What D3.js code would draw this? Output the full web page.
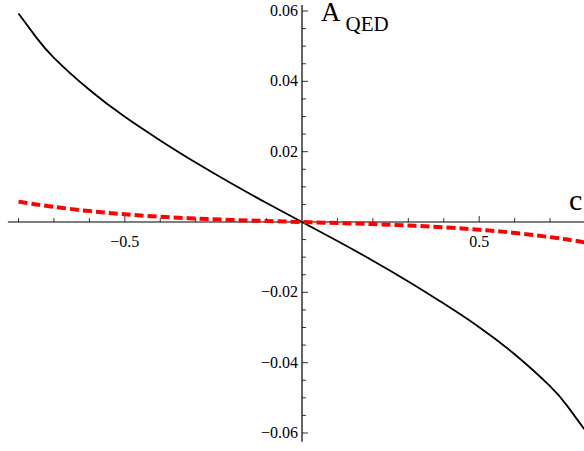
<!DOCTYPE html>
<meta charset="utf-8">
<body style="margin:0;background:#fff">
<script src="https://d3js.org/d3.v7.min.js"></script>
<script>
// values
var cValues   = [-0.8, -0.75, -0.7, -0.6, -0.5, -0.4, -0.3, -0.2, -0.1, 0, 0.1, 0.2, 0.3, 0.4, 0.5, 0.6, 0.7, 0.75, 0.8];
var aSolid    = [0.0593, 0.0525, 0.0467, 0.0376, 0.0299, 0.0232, 0.0169, 0.0110, 0.0054, 0,
                 -0.0054, -0.0110, -0.0169, -0.0232, -0.0299, -0.0376, -0.0467, -0.0525, -0.0594];
var aDashed   = [0.0058, 0.0050, 0.0043, 0.0031, 0.0022, 0.0015, 0.0010, 0.0006, 0.0003, 0,
                 -0.0003, -0.0006, -0.0010, -0.0015, -0.0022, -0.0031, -0.0043, -0.0050, -0.0058];
var xTickLabels = [-0.5, 0.5];
var yTickLabels = [0.06, 0.04, 0.02, -0.02, -0.04, -0.06];

var width = 584, height = 451;
var serif = "'Liberation Serif'";

var x = d3.scaleLinear().domain([-0.8, 0.8]).range([18.5, 585.5]);
var y = d3.scaleLinear().domain([-0.06, 0.06]).range([433, 11]);

var svg = d3.select("body").append("svg")
    .attr("width", width)
    .attr("height", height);

var fmt = function(v) { return (v < 0 ? "\u2212" : "") + Math.abs(v); };

// x axis
svg.append("line")
    .attr("x1", x(-0.83)).attr("x2", width)
    .attr("y1", y(0)).attr("y2", y(0))
    .attr("stroke", "#000").attr("stroke-width", 1.2);

var xMinor = d3.range(-8, 9).map(function(i) { return i / 10; }).filter(function(v) { return v !== 0; });
svg.selectAll(".xtick")
    .data(xMinor)
  .enter().append("line")
    .attr("class", "xtick")
    .attr("x1", function(d) { return x(d); })
    .attr("x2", function(d) { return x(d); })
    .attr("y1", y(0))
    .attr("y2", function(d) { return y(0) - (Math.abs(Math.abs(d) - 0.5) < 1e-9 ? 6 : 4); })
    .attr("stroke", "#000").attr("stroke-width", 0.8);

svg.selectAll(".xlab")
    .data(xTickLabels)
  .enter().append("text")
    .attr("x", function(d) { return x(d); })
    .attr("y", y(0) + 25)
    .attr("text-anchor", "middle")
    .attr("font-family", "Liberation Serif")
    .style("font-family", serif)
    .style("font-size", "16px")
    .text(fmt);

// y axis
svg.append("line")
    .attr("x1", x(0)).attr("x2", x(0))
    .attr("y1", y(0.0617)).attr("y2", y(-0.0625))
    .attr("stroke", "#000").attr("stroke-width", 1.2);

var yMinor = d3.range(-12, 13).map(function(i) { return i * 0.005; }).filter(function(v) { return Math.abs(v) > 1e-9; });
svg.selectAll(".ytick")
    .data(yMinor)
  .enter().append("line")
    .attr("class", "ytick")
    .attr("x1", x(0))
    .attr("x2", function(d) { return x(0) + (Math.abs(Math.round(d * 1000) % 20) === 0 ? 6 : 4); })
    .attr("y1", function(d) { return y(d); })
    .attr("y2", function(d) { return y(d); })
    .attr("stroke", "#000").attr("stroke-width", 0.8);

svg.selectAll(".ylab")
    .data(yTickLabels)
  .enter().append("text")
    .attr("x", x(0) - 4)
    .attr("y", function(d) { return y(d) + 5; })
    .attr("text-anchor", "end")
    .attr("font-family", "Liberation Serif")
    .style("font-family", serif)
    .style("font-size", "16px")
    .text(fmt);

// curves
var line = d3.line()
    .x(function(d) { return x(d[0]); })
    .y(function(d) { return y(d[1]); })
    .curve(d3.curveNatural);

svg.append("path")
    .datum(cValues.map(function(c, i) { return [c, aSolid[i]]; }))
    .attr("d", line)
    .attr("fill", "none")
    .attr("stroke", "#000")
    .attr("stroke-width", 1.8);

svg.append("path")
    .datum(cValues.map(function(c, i) { return [c, aDashed[i]]; }))
    .attr("d", line)
    .attr("fill", "none")
    .attr("stroke", "#ff0000")
    .attr("stroke-width", 4)
    .attr("stroke-dasharray", "9,4");

// axis labels
var aLab = svg.append("text")
    .attr("x", 321)
    .attr("y", 21)
    .attr("font-family", "Liberation Serif")
    .style("font-family", serif);
aLab.append("tspan").style("font-size", "27px").text("A");
aLab.append("tspan").attr("dx", 5).attr("dy", 10).style("font-size", "21px").text("QED");

svg.append("text")
    .attr("x", 569)
    .attr("y", 210)
    .attr("font-family", "Liberation Serif")
    .style("font-family", serif)
    .style("font-size", "30px")
    .text("c");
</script>
</body>
